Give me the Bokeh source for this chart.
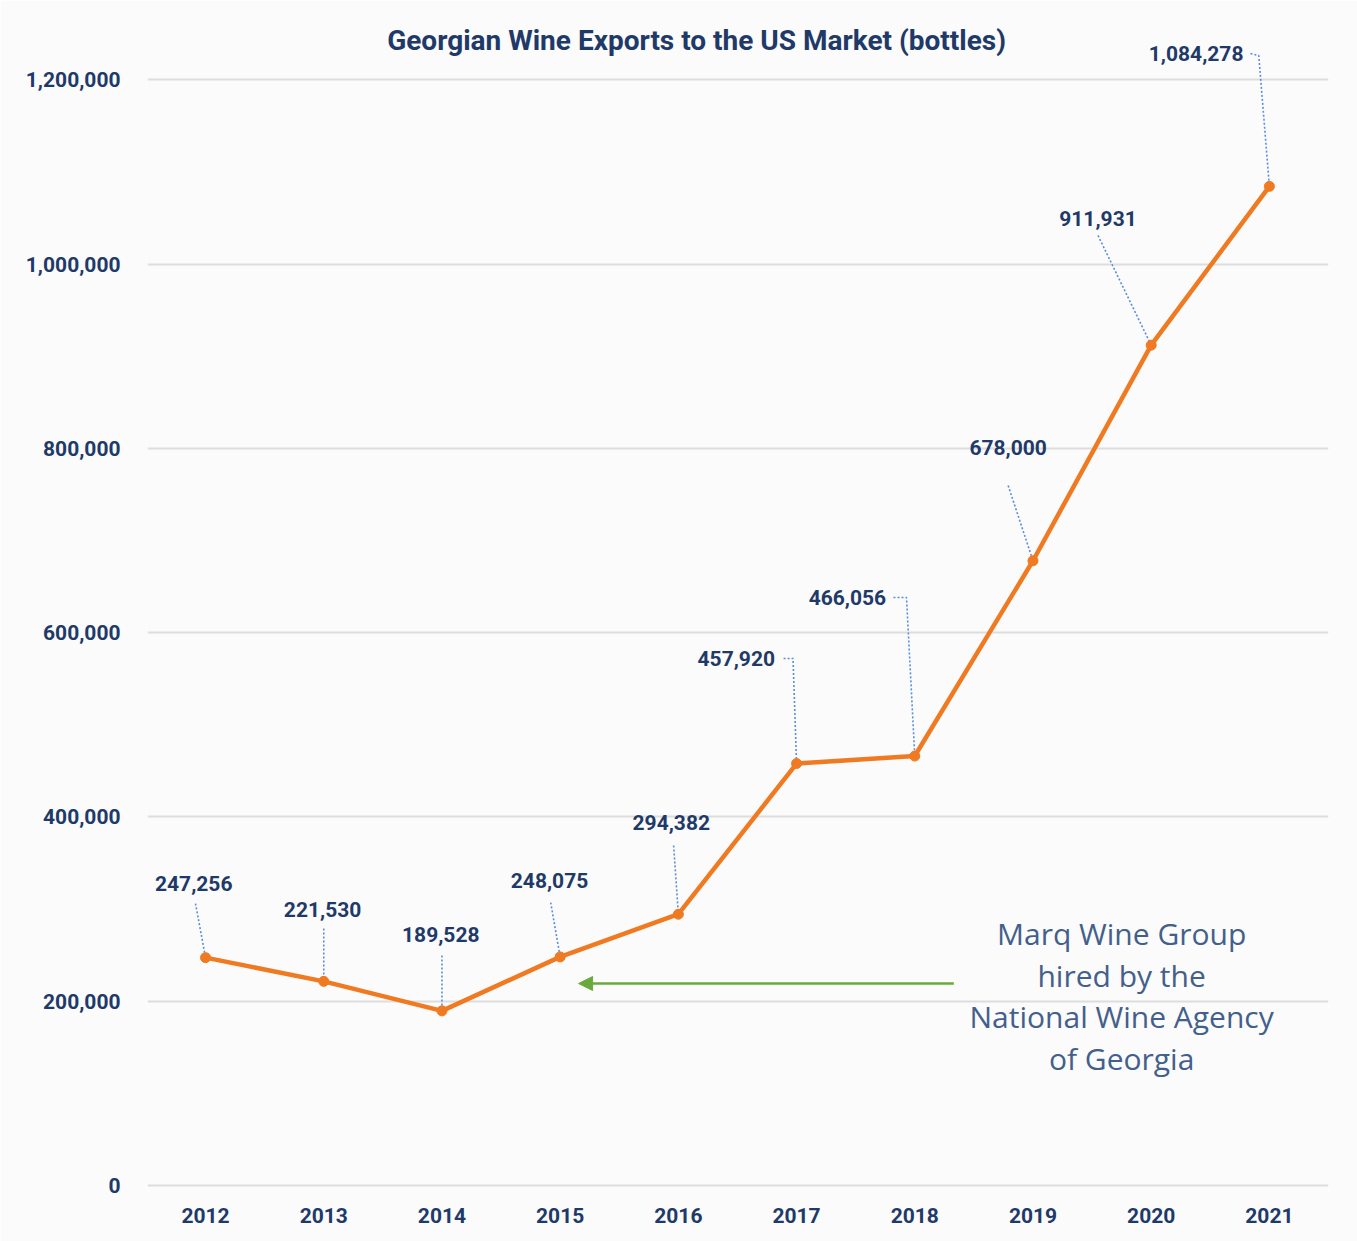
from bokeh.plotting import figure
from bokeh.models import Range1d, FixedTicker, NumeralTickFormatter, Arrow, NormalHead, ColumnDataSource, Label
from bokeh.core.properties import value
from bokeh.embed import file_html
from bokeh.resources import INLINE

# ---- data ----
years = [2012, 2013, 2014, 2015, 2016, 2017, 2018, 2019, 2020, 2021]
bottles = [247256, 221530, 189528, 248075, 294382, 457920, 466056, 678000, 911931, 1084278]
y_ticks = [0, 200000, 400000, 600000, 800000, 1000000, 1200000]
title_text = "Georgian Wine Exports to the US Market (bottles)"
note_lines = ["Marq Wine Group", "hired by the", "National Wine Agency", "of Georgia"]

# ---- layout of labels (positions in data units) ----
label_x = [2011.90, 2012.99, 2013.99, 2014.91, 2015.94, 2016.49, 2017.43, 2018.79, 2019.55, 2020.38]
label_y = [327700, 299500, 272400, 331000, 393900, 571900, 638100, 800900, 1049400, 1228400]
lead_x0 = [2011.915, 2013.0, 2014.0, 2014.92, 2015.96, 2016.89, 2017.82, 2018.79, 2019.55, 2020.84]
lead_y0 = [306000, 278900, 249600, 307100, 369000, 571900, 638100, 759600, 1031000, 1228400]
lead_cx = [None, None, None, None, None, 2016.97, 2017.93, None, None, 2020.91]
lead_cy = [None, None, None, None, None, 571900, 638100, None, None, 1226300]

NAVY = "#1f3a68"
ORANGE = "#f07a22"
DOT = "#5a8edb"
GREEN = "#6aaa3c"
NOTE = "#43608c"
FONT = "Roboto"

p = figure(width=1357, height=1241, output_backend="svg", toolbar_location=None,
           x_range=Range1d(2011.509, 2021.50), y_range=Range1d(-5426, 1269700),
           min_border_left=147, min_border_right=29, min_border_top=15, min_border_bottom=51)
p.background_fill_color = "#fbfbfb"
p.border_fill_color = "#fbfbfb"
p.outline_line_color = None

p.xgrid.grid_line_color = None
p.ygrid.grid_line_color = "#dddddd"
p.ygrid.grid_line_width = 2

p.yaxis.ticker = FixedTicker(ticks=y_ticks)
p.yaxis.formatter = NumeralTickFormatter(format="0,0")
p.xaxis.ticker = FixedTicker(ticks=years)
for ax in (p.xaxis, p.yaxis):
    ax.axis_line_color = None
    ax.major_tick_line_color = None
    ax.minor_tick_line_color = None
    ax.major_tick_out = 0
    ax.major_tick_in = 0
    ax.major_label_text_font = FONT
    ax.major_label_text_font_style = "bold"
    ax.major_label_text_font_size = "21px"
    ax.major_label_text_color = NAVY
p.yaxis.major_label_standoff = 27
p.xaxis.major_label_standoff = 17

# leader lines
xs, ys = [], []
for i in range(len(years)):
    lx = [lead_x0[i]]
    ly = [lead_y0[i]]
    if lead_cx[i] is not None:
        lx.append(lead_cx[i])
        ly.append(lead_cy[i])
    lx.append(years[i])
    ly.append(bottles[i])
    xs.append(lx)
    ys.append(ly)
p.multi_line(xs=xs, ys=ys, line_color=DOT, line_width=1.6, line_dash="2 2")

src = ColumnDataSource(dict(x=years, y=bottles))
p.line("x", "y", source=src, line_color=ORANGE, line_width=4.5)
p.scatter("x", "y", source=src, size=10, fill_color=ORANGE, line_color=ORANGE)

lab = ColumnDataSource(dict(x=label_x, y=label_y, t=[f"{v:,}" for v in bottles]))
p.text("x", "y", text="t", source=lab, text_align="center", text_baseline="middle",
       text_font=value(FONT), text_font_style="bold", text_font_size="21px", text_color=NAVY)

# title
p.text(x=[2016.154], y=[1242500], text=[title_text], text_align="center", text_baseline="middle",
       text_font=value(FONT), text_font_style="bold", text_font_size="28px", text_color=NAVY)

# annotation
note_y = [273500 - 45250 * i for i in range(len(note_lines))]
p.text(x=[2019.75] * len(note_lines), y=note_y, text=note_lines, text_align="center",
       text_baseline="middle", text_font=value("Open Sans"), text_font_size="30px", text_color=NOTE)

p.add_layout(Arrow(end=NormalHead(size=14, fill_color=GREEN, line_color=GREEN),
                   x_start=2018.33, y_start=219200, x_end=2015.156, y_end=219200,
                   line_color=GREEN, line_width=2.5))

# dark edge tabs of the slide (outside the frame)
for cx, half in ((2010.329, 7), (2021.70, 5)):
    p.add_layout(Label(x=cx, y=651660, text=" ", text_font_size="1px",
                       text_align="center", text_baseline="middle",
                       padding=dict(left=half, right=half, top=22, bottom=22),
                       background_fill_color="#2e4a6a", background_fill_alpha=1.0,
                       border_line_color="#2a5cb0", border_line_width=1.5))

open("out.html", "w").write(file_html(p, INLINE))
